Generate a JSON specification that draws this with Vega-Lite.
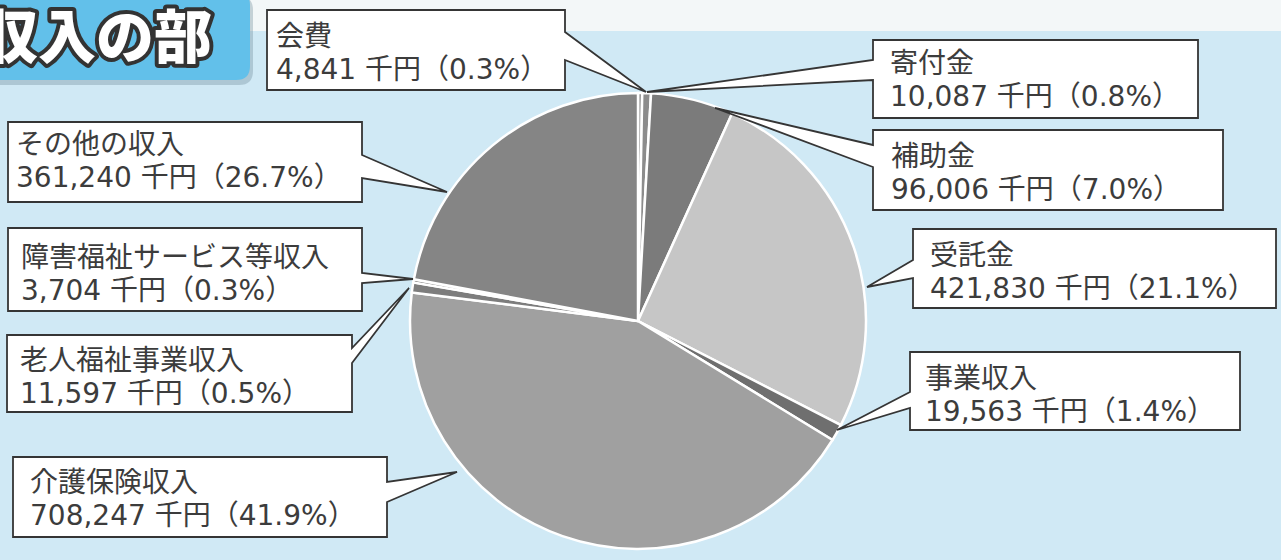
{
  "$schema": "https://vega.github.io/schema/vega-lite/v6.json",
  "width": 1281,
  "height": 560,
  "autosize": {"type": "none"},
  "padding": 0,
  "background": "#d0e9f5",
  "view": {"stroke": null},
  "config": {"axis": {"disable": true}},
  "data": {
    "values": [
      {"name": "会費", "amount": 4841, "pct": 0.3},
      {"name": "寄付金", "amount": 10087, "pct": 0.8},
      {"name": "補助金", "amount": 96006, "pct": 7.0},
      {"name": "受託金", "amount": 421830, "pct": 21.1},
      {"name": "事業収入", "amount": 19563, "pct": 1.4},
      {"name": "介護保険収入", "amount": 708247, "pct": 41.9},
      {"name": "老人福祉事業収入", "amount": 11597, "pct": 0.5},
      {"name": "障害福祉サービス等収入", "amount": 3704, "pct": 0.3},
      {"name": "その他の収入", "amount": 361240, "pct": 26.7}
    ]
  },
  "transform": [{"window": [{"op": "row_number", "as": "i"}]}],
  "layer": [
    {
      "data": {"values": [{"t": "収入の部"}]},
      "mark": {"type": "point", "shape": "M20,-40H1070V-5H20Z", "size": 4, "filled": true, "fill": "#f3f7f8", "opacity": 1, "strokeWidth": 0},
      "encoding": {
        "x": {"datum": 10, "type": "quantitative", "scale": {"domain": [0,1,2,3,4,5,6,7,8,9,10], "range": [638,276,890,891,930,925,30,20,21,16,212], "zero": false, "nice": false}, "axis": null},
        "y": {"datum": 10, "type": "quantitative", "scale": {"domain": [0,1,2,3,4,5,6,7,8,9,10], "range": [321,52,79,172,271,394,498,376,273,160,36], "zero": false, "nice": false}, "axis": null}
      }
    },
    {
      "data": {"values": [{"t": "収入の部"}]},
      "mark": {"type": "point", "shape": "M-240,-40H27Q41,-40 41,-26V35Q41,49 27,49H-240Z", "size": 4, "filled": true, "fill": "#6d8a99", "opacity": 0.35, "strokeWidth": 0},
      "encoding": {
        "x": {"datum": 10, "type": "quantitative"},
        "y": {"datum": 10, "type": "quantitative"}
      }
    },
    {
      "data": {"values": [{"t": "収入の部"}]},
      "mark": {"type": "point", "shape": "M-240,-45H24Q38,-45 38,-31V30Q38,44 24,44H-240Z", "size": 4, "filled": true, "fill": "#62c0ea", "opacity": 1, "strokeWidth": 0},
      "encoding": {
        "x": {"datum": 10, "type": "quantitative"},
        "y": {"datum": 10, "type": "quantitative"}
      }
    },
    {
      "data": {"values": [{"t": "収入の部"}]},
      "mark": {"type": "text", "font": "Noto Sans CJK JP", "fontWeight": 900, "fontSize": 58, "align": "right", "baseline": "middle", "dy": 5, "fill": "#333333", "stroke": "#333333", "strokeWidth": 8, "strokeJoin": "round"},
      "encoding": {
        "x": {"datum": 10, "type": "quantitative"},
        "y": {"datum": 10, "type": "quantitative"},
        "text": {"field": "t"}
      }
    },
    {
      "data": {"values": [{"t": "収入の部"}]},
      "mark": {"type": "text", "font": "Noto Sans CJK JP", "fontWeight": 900, "fontSize": 58, "align": "right", "baseline": "middle", "dy": 5, "fill": "#ffffff"},
      "encoding": {
        "x": {"datum": 10, "type": "quantitative"},
        "y": {"datum": 10, "type": "quantitative"},
        "text": {"field": "t"}
      }
    },
    {
      "mark": {"type": "arc", "outerRadius": 228, "stroke": "#ffffff", "strokeWidth": 2.5},
      "encoding": {
        "x": {"datum": 0, "type": "quantitative"},
        "y": {"datum": 0, "type": "quantitative"},
        "theta": {"field": "amount", "type": "quantitative", "stack": true},
        "order": {"field": "i", "type": "quantitative", "sort": "ascending"},
        "color": {
          "field": "name", "type": "nominal", "legend": null,
          "scale": {
            "domain": ["会費","寄付金","補助金","受託金","事業収入","介護保険収入","老人福祉事業収入","障害福祉サービス等収入","その他の収入"],
            "range": ["#8c8c8c","#8c8c8c","#7b7b7b","#c6c6c6","#6f6f6f","#a0a0a0","#7d7d7d","#7d7d7d","#858585"]
          }
        }
      }
    },
    {
      "mark": {"type": "point", "size": 4, "filled": true, "fill": "#ffffff", "stroke": "#353535", "strokeWidth": 1.8, "strokeJoin": "miter", "opacity": 1},
      "encoding": {
        "x": {"field": "i", "type": "quantitative"},
        "y": {"field": "i", "type": "quantitative"},
        "shape": {
          "field": "name", "type": "nominal", "legend": null,
          "scale": {
            "domain": ["会費","寄付金","補助金","受託金","事業収入","介護保険収入","老人福祉事業収入","障害福祉サービス等収入","その他の収入"],
            "range": [
              "M-9,-42H289V-20L370,40L289,8V38H-9Z",
              "M-17,-39H308V39H-17V1L-243,13L-17,-19Z",
              "M-18,-42H332V38H-18V-5L-176,-64L-18,-27Z",
              "M-17,-42H346V37H-17V7L-63,16L-17,-11Z",
              "M-15,-42H315V36H-15V14L-88,36L-15,-2Z",
              "M-17,-41H357V-16L427,-26L357,4V39H-17Z",
              "M-13,-41H332V-28L389,-88L332,-13V36H-13Z",
              "M-13,-45H341V0L392,6L341,10V38H-13Z",
              "M-8,-38H346V-5L431,32L346,18V42H-8Z"
            ]
          }
        }
      }
    },
    {
      "mark": {"type": "text", "font": "DejaVu Sans, Noto Sans CJK JP", "fontSize": 28, "align": "left", "baseline": "middle", "dy": -14, "fill": "#3c3c3c"},
      "encoding": {
        "x": {"field": "i", "type": "quantitative"},
        "y": {"field": "i", "type": "quantitative"},
        "text": {"field": "name"}
      }
    },
    {
      "transform": [{"calculate": "format(datum.amount, ',') + ' 千円（' + format(datum.pct, '.1f') + '%）'", "as": "line2"}],
      "mark": {"type": "text", "font": "DejaVu Sans, Noto Sans CJK JP", "fontSize": 28, "align": "left", "baseline": "middle", "dy": 19, "fill": "#3c3c3c"},
      "encoding": {
        "x": {"field": "i", "type": "quantitative"},
        "y": {"field": "i", "type": "quantitative"},
        "text": {"field": "line2"}
      }
    }
  ]
}
